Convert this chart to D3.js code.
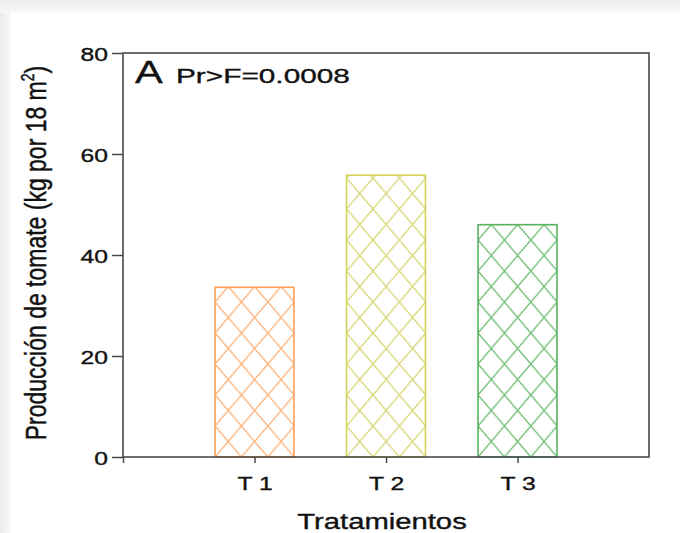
<!DOCTYPE html>
<html>
<head>
<meta charset="utf-8">
<script src="https://cdn.jsdelivr.net/npm/d3@7"></script>
<style>
  html, body { margin: 0; padding: 0; background: #fff; }
  svg { display: block; font-family: Arial, "Liberation Sans", sans-serif; }
  text { stroke: #111; stroke-width: 0.35px; }
</style>
</head>
<body>
<svg id="chart" width="680" height="533"></svg>
<script>
// Tomato yield per treatment
const categories = ["T 1", "T 2", "T 3"];
const yieldValues = [33.6, 55.8, 46.0];
const yTicks = [0, 20, 40, 60, 80];
const barStroke = ["#ffa05a", "#d3d357", "#58b25e"];
const barHatch = ["#ffb47a", "#d8d878", "#72bf76"];

const svg = d3.select("#chart");
const W = 680, H = 533;
const plot = { left: 123, right: 649, top: 53, bottom: 457 };
const sx = 1.3; // horizontal text stretch

// page backdrop
const defs = svg.append("defs");
const gTop = defs.append("linearGradient").attr("id", "topShade").attr("x1", 0).attr("y1", 0).attr("x2", 0).attr("y2", 1);
gTop.append("stop").attr("offset", "0%").attr("stop-color", "#ededed");
gTop.append("stop").attr("offset", "100%").attr("stop-color", "#f8f8f8");
const gLeft = defs.append("linearGradient").attr("id", "leftShade").attr("x1", 0).attr("y1", 0).attr("x2", 1).attr("y2", 0);
gLeft.append("stop").attr("offset", "0%").attr("stop-color", "#ececec");
gLeft.append("stop").attr("offset", "100%").attr("stop-color", "#f7f7f7");

svg.append("rect").attr("width", W).attr("height", H).attr("fill", "#fff");
svg.append("rect").attr("x", 0).attr("y", 0).attr("width", W).attr("height", 13).attr("fill", "url(#topShade)");
svg.append("rect").attr("x", 0).attr("y", 13).attr("width", 10).attr("height", H - 13).attr("fill", "url(#leftShade)");

// scales
const x = d3.scaleLinear().domain([0, 4]).range([plot.left, plot.right]);
const y = d3.scaleLinear().domain([0, 80]).range([plot.bottom, plot.top]);
const barW = x(0.6) - x(0);

// crosshatch fills
categories.forEach((c, i) => {
  const pw = 26.4, ph = 31;
  const p = defs.append("pattern")
    .attr("id", "hatch" + i)
    .attr("patternUnits", "userSpaceOnUse")
    .attr("width", pw).attr("height", ph)
    .attr("x", x(i + 1) - barW / 2).attr("y", plot.bottom);
  p.append("path")
    .attr("d", `M0,0L${pw},${ph}M${pw},0L0,${ph}`)
    .attr("stroke", barHatch[i]).attr("stroke-width", 1.4).attr("fill", "none");
});

// bars
svg.append("g").selectAll("rect")
  .data(yieldValues)
  .join("rect")
  .attr("x", (d, i) => x(i + 1) - barW / 2)
  .attr("y", d => y(d))
  .attr("width", barW)
  .attr("height", d => y(0) - y(d))
  .attr("fill", (d, i) => `url(#hatch${i})`)
  .attr("stroke", (d, i) => barStroke[i])
  .attr("stroke-width", 1.6);

// frame
svg.append("rect")
  .attr("x", plot.left).attr("y", plot.top)
  .attr("width", plot.right - plot.left).attr("height", plot.bottom - plot.top)
  .attr("fill", "none").attr("stroke", "#4a4a4a").attr("stroke-width", 1.6);

// y axis
const yAxis = svg.append("g")
  .attr("transform", `translate(${plot.left},0)`)
  .call(d3.axisLeft(y).tickValues(yTicks).tickSize(11).tickFormat(d3.format("d")));
yAxis.select(".domain").remove();
yAxis.selectAll(".tick line").attr("stroke", "#4a4a4a").attr("stroke-width", 1.5);
yAxis.selectAll(".tick text")
  .attr("x", null).attr("dy", null)
  .attr("text-anchor", "end")
  .attr("transform", "translate(-15,7) scale(" + sx + ",1)")
  .attr("font-size", 19).attr("fill", "#111")
  .attr("font-family", "Arial, 'Liberation Sans', sans-serif");

// x axis
const xAxis = svg.append("g")
  .attr("transform", `translate(0,${plot.bottom})`)
  .call(d3.axisBottom(x).tickValues([0, 1, 2, 3]).tickSize(6)
    .tickFormat(d => d === 0 ? "" : categories[d - 1]));
xAxis.select(".domain").remove();
xAxis.selectAll(".tick line").attr("stroke", "#4a4a4a").attr("stroke-width", 1.5);
xAxis.selectAll(".tick text")
  .attr("y", null).attr("dy", null)
  .attr("transform", "translate(0,33) scale(" + sx + ",1)")
  .attr("font-size", 19).attr("fill", "#111")
  .attr("font-family", "Arial, 'Liberation Sans', sans-serif");

// axis titles
svg.append("text")
  .attr("transform", `translate(382,529) scale(${sx},1)`)
  .attr("text-anchor", "middle")
  .attr("font-size", 22.5).attr("fill", "#111")
  .text("Tratamientos");

const yt = svg.append("text")
  .attr("transform", `translate(46,253) scale(${sx},1) rotate(-90)`)
  .attr("text-anchor", "middle")
  .attr("font-size", 23).attr("fill", "#111");
yt.append("tspan").text("Producción de tomate (kg por 18 m");
yt.append("tspan").attr("font-size", 14).attr("dy", -9).text("2");
yt.append("tspan").attr("dy", 9).text(")");

// panel annotation
svg.append("text")
  .attr("transform", `translate(135,83) scale(${sx},1)`)
  .attr("font-size", 32).attr("fill", "#111")
  .text("A");
svg.append("text")
  .attr("transform", "translate(176,83) scale(1.42,1)")
  .attr("font-size", 21).attr("fill", "#111")
  .text("Pr>F=0.0008");
</script>
</body>
</html>
